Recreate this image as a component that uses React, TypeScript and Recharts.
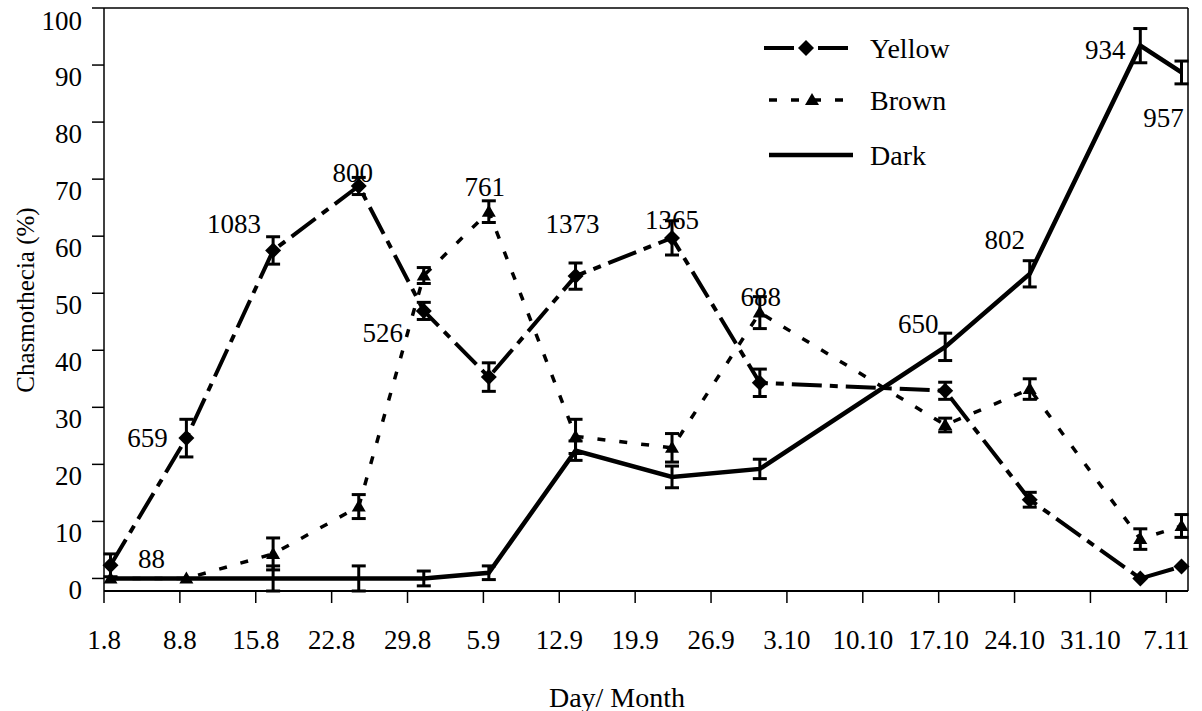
import { LineChart, Line, XAxis, YAxis, ErrorBar, LabelList, ReferenceLine, Legend } from 'recharts'

// sampling dates, as days after 1 August
const days = [0.6, 7.6, 15.6, 23.5, 29.5, 35.5, 43.5, 52.4, 60.5, 77.6, 85.4, 95.6, 99.4]

const yellow = [2.3, 24.6, 57.5, 68.8, 46.9, 35.3, 53.0, 59.7, 34.3, 32.9, 13.8, 0, 2.1]
const yellowErr = [2, 3.3, 2.4, 1.5, 1.5, 2.5, 2.3, 3, 2.4, 1.5, 1.3, 0, 0]

const brown = [0, 0, 4.3, 12.6, 53.1, 64.3, 24.9, 22.9, 46.6, 26.9, 33.2, 6.9, 9.2]
const brownErr = [0, 0, 2.8, 2.1, 1.4, 1.9, 3, 2.5, 2.8, 1.2, 1.8, 1.8, 2]

const dark = [0, 0, 0, 0, 0, 1.0, 22.4, 17.8, 19.2, 40.6, 53.4, 93.4, 88.7]
const darkErr = [0, 0, 2.2, 2.2, 1.3, 1.2, 1.7, 1.9, 1.7, 2.4, 2.3, 3, 2]

// number of chasmothecia examined on each date
const sampleSizes = [88, 659, 1083, 800, 526, 761, 1373, 1365, 688, 650, 802, 934, 957]

const tickDays = [0, 7, 14, 21, 28, 35, 42, 49, 56, 63, 70, 77, 84, 91, 98]
const tickLabels = ['1.8', '8.8', '15.8', '22.8', '29.8', '5.9', '12.9', '19.9', '26.9', '3.10', '10.10', '17.10', '24.10', '31.10', '7.11']
const yTicks = [0, 10, 20, 30, 40, 50, 60, 70, 80, 90, 100]

const seriesNames = ['Yellow', 'Brown', 'Dark']

const data = days.map((day, i) => ({
  day,
  yellow: yellow[i],
  yellowErr: yellowErr[i],
  brown: brown[i],
  brownErr: brownErr[i],
  dark: dark[i],
  darkErr: darkErr[i],
  top: Math.max(yellow[i], brown[i], dark[i]),
  n: sampleSizes[i],
}))

const FONT = "'Liberation Serif', 'Times New Roman', serif"
const YELLOW_DASH = '30 8 8 8'
const BROWN_DASH = '8 14'

// where each count sits relative to the highest point of its date
const countOffsets: [number, number][] = [
  [41, -6], [-39, 0], [-39, -26], [-6, -13], [-41, 57], [-4, -25], [-3, -52],
  [0, -18], [1, -16], [-27, -23], [-25, -34], [-35, 4], [-18, 46],
]

const diamond = (cx: number, cy: number, r = 8) =>
  `M${cx},${cy - r}L${cx + r},${cy}L${cx},${cy + r}L${cx - r},${cy}Z`
const triangle = (cx: number, cy: number) =>
  `M${cx},${cy - 7}L${cx + 7},${cy + 5}L${cx - 7},${cy + 5}Z`

const DiamondDot = (p: any) => <path key={`d${p.index}`} d={diamond(p.cx, p.cy)} fill="#000" />
const TriangleDot = (p: any) => <path key={`t${p.index}`} d={triangle(p.cx, p.cy)} fill="#000" />

const XTick = ({ x, y, payload }: any) => (
  <text x={x} y={y + 37} textAnchor="middle" dominantBaseline="central" fontFamily={FONT} fontSize={27} fill="#000">
    {tickLabels[tickDays.indexOf(payload.value)]}
  </text>
)

const YTick = ({ x, y, payload }: any) => (
  <text x={x} y={y + 12} textAnchor="end" dominantBaseline="central" fontFamily={FONT} fontSize={27} fill="#000">
    {payload.value}
  </text>
)

const CountLabel = (props: any) => {
  const x = props.x ?? props.viewBox?.x
  const y = props.y ?? props.viewBox?.y
  const [dx, dy] = countOffsets[props.index]
  return (
    <text x={x + dx} y={y + dy} textAnchor="middle" dominantBaseline="central" fontFamily={FONT} fontSize={27} fill="#000">
      {sampleSizes[props.index]}
    </text>
  )
}

const LegendBox = () => (
  <svg width={230} height={150}>
    <line x1={24} y1={28} x2={114} y2={28} stroke="#000" strokeWidth={4} strokeDasharray={YELLOW_DASH} />
    <path d={diamond(66, 28)} fill="#000" />
    <line x1={29} y1={80} x2={113} y2={80} stroke="#000" strokeWidth={3.5} strokeDasharray={BROWN_DASH} />
    <path d={triangle(72, 80)} fill="#000" />
    <line x1={29} y1={135} x2={113} y2={135} stroke="#000" strokeWidth={4.5} />
    {seriesNames.map((name, i) => (
      <text key={name} x={130} y={[28, 80, 135][i]} dominantBaseline="central" fontFamily={FONT} fontSize={28} fill="#000">
        {name}
      </text>
    ))}
  </svg>
)

export default function App() {
  return (
    <div style={{ position: 'absolute', left: 0, top: 0, background: '#fff' }}>
      <LineChart width={1202} height={711} data={data} margin={{ top: 8, right: 14, bottom: 10, left: 10 }}>
        <XAxis
          dataKey="day"
          type="number"
          domain={[0, 100]}
          ticks={tickDays}
          tick={<XTick />}
          tickSize={12}
          tickMargin={0}
          height={110}
          axisLine={{ stroke: '#000', strokeWidth: 2 }}
          tickLine={{ stroke: '#000', strokeWidth: 1.5 }}
          label={{
            content: () => (
              <text x={617} y={697} textAnchor="middle" dominantBaseline="central" fontFamily={FONT} fontSize={28} fill="#000">
                Day/ Month
              </text>
            ),
          }}
        />
        <YAxis
          type="number"
          domain={[0, 100]}
          ticks={yTicks}
          tick={<YTick />}
          tickSize={12}
          tickMargin={10}
          width={94}
          axisLine={{ stroke: '#000', strokeWidth: 1.5 }}
          tickLine={{ stroke: '#000', strokeWidth: 1.5 }}
          label={{
            content: () => (
              <text x={25} y={300} transform="rotate(-90, 25, 300)" textAnchor="middle" dominantBaseline="central" fontFamily={FONT} fontSize={25} fill="#000">
                Chasmothecia (%)
              </text>
            ),
          }}
        />
        <ReferenceLine y={100} stroke="#000" strokeWidth={1.5} />
        <ReferenceLine x={100} stroke="#000" strokeWidth={1.5} />
        <Legend layout="vertical" align="center" verticalAlign="middle" wrapperStyle={{ left: 740, top: 20, width: 230 }} content={<LegendBox />} />
        <Line dataKey="dark" name="Dark" type="linear" stroke="#000" strokeWidth={4.5} dot={false} activeDot={false} isAnimationActive={false}>
          <ErrorBar dataKey="darkErr" direction="y" width={7} stroke="#000" strokeWidth={3} />
        </Line>
        <Line dataKey="brown" name="Brown" type="linear" stroke="#000" strokeWidth={3.5} strokeDasharray={BROWN_DASH} dot={TriangleDot} activeDot={false} isAnimationActive={false}>
          <ErrorBar dataKey="brownErr" direction="y" width={7} stroke="#000" strokeWidth={3} />
        </Line>
        <Line dataKey="yellow" name="Yellow" type="linear" stroke="#000" strokeWidth={4} strokeDasharray={YELLOW_DASH} dot={DiamondDot} activeDot={false} isAnimationActive={false}>
          <ErrorBar dataKey="yellowErr" direction="y" width={7} stroke="#000" strokeWidth={3} />
        </Line>
        <Line dataKey="top" type="linear" stroke="none" dot={false} activeDot={false} legendType="none" isAnimationActive={false}>
          <LabelList dataKey="n" content={<CountLabel />} />
        </Line>
      </LineChart>
    </div>
  )
}
